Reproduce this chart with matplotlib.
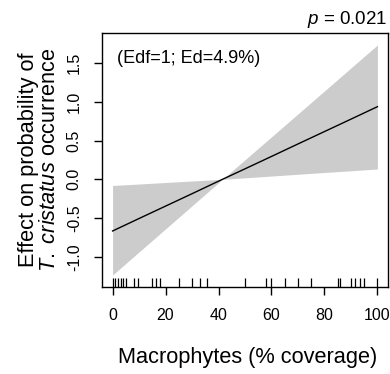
import matplotlib
matplotlib.use("Agg")
import matplotlib.pyplot as plt

plt.rcParams['font.family'] = ['Liberation Sans', 'DejaVu Sans']
plt.rcParams['mathtext.fontset'] = 'custom'
plt.rcParams['mathtext.rm'] = 'Liberation Sans'
plt.rcParams['mathtext.it'] = 'Liberation Sans:italic'

# smooth term: fitted effect and confidence band
cover = [0, 10, 20, 30, 41.5, 50, 60, 70, 80, 90, 100]
fit = [-0.667, -0.506, -0.346, -0.186, 0.0, 0.135, 0.295, 0.456, 0.616, 0.776, 0.937]
upper = [-0.08, -0.061, -0.041, -0.022, 0.0, 0.252, 0.548, 0.844, 1.140, 1.437, 1.733]
lower = [-1.235, -0.937, -0.640, -0.342, 0.0, 0.019, 0.042, 0.065, 0.088, 0.110, 0.133]

# observed macrophyte cover (rug)
rug_x = [0, 1, 2, 3, 4, 5, 8, 9.5, 15, 16.5, 18, 25, 30, 33, 35.5, 50, 58, 60,
         65, 70, 75, 85, 86, 90, 91.5, 93.5, 95, 100]

xticks = [0, 20, 40, 60, 80, 100]
yticks = [-1.0, -0.5, 0.0, 0.5, 1.0, 1.5]

fig = plt.figure(figsize=(3.9, 3.74), dpi=100)
ax = fig.add_axes([0.2615, 0.2334, 0.7334, 0.6784])

ax.fill_between(cover, lower, upper, color='#CCCCCC', linewidth=0)
ax.plot(cover, fit, color='black', lw=1.0)
ax.vlines(rug_x, 0, 0.035, color='black', lw=0.9, transform=ax.get_xaxis_transform())

ax.set_xlim(-4, 104)
ax.set_ylim(-1.386, 1.888)
ax.set_xticks(xticks)
ax.set_xticklabels([str(t) for t in xticks])
ax.set_yticks(yticks)
ax.set_yticklabels(['%.1f' % t for t in yticks], rotation=90, va='center')
ax.tick_params(direction='out', length=6, width=1, labelsize=11.5, pad=9)
ax.tick_params(axis='y', pad=8.5)
for s in ax.spines.values():
    s.set_linewidth(1)

ax.text(0.052, 0.90, '(Edf=1; Ed=4.9%)', transform=ax.transAxes, fontsize=13,
        ha='left', va='center')
fig.text(0.992, 0.935, '$p$ = 0.021', fontsize=13.5, ha='right', va='baseline')

fig.text(0.072, 0.572, 'Effect on probability of', rotation=90, fontsize=15.7,
         ha='center', va='center')
fig.text(0.128, 0.572, r'$\it{T.\ cristatus}$ occurrence', rotation=90, fontsize=15.7,
         ha='center', va='center')
fig.text(0.635, 0.045, 'Macrophytes (% coverage)', fontsize=15.7, ha='center', va='center')

fig.savefig('out.png', dpi=100)
